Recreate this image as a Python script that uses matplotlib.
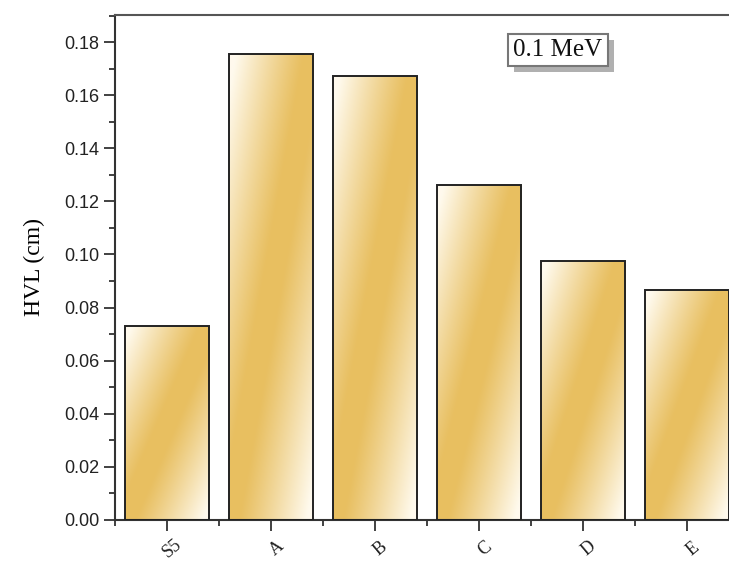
import numpy as np
import matplotlib.pyplot as plt
from matplotlib.patches import Rectangle
from matplotlib.transforms import IdentityTransform
from matplotlib.ticker import MultipleLocator, FixedLocator

# data
samples = ['S5', 'A', 'B', 'C', 'D', 'E']
hvl = [0.0731, 0.1755, 0.1673, 0.1260, 0.0977, 0.0866]
energy_label = '0.1 MeV'

gold = np.array([0.91, 0.75, 0.38])
cream = np.array([1.0, 0.98, 0.93])

fig = plt.figure(figsize=(7.29, 5.65), dpi=100)
ax = fig.add_axes([115/729, 45/565, 624/729, 505/565])

x = np.arange(len(samples))
bars = ax.bar(x, hvl, width=0.81, facecolor='none', edgecolor='#222222',
              linewidth=1.4, zorder=3)

# diagonal gradient fill: cream at top-left / bottom-right corners, gold across the middle
nx, ny = np.meshgrid(np.linspace(0, 1, 120), np.linspace(0, 1, 240))
t = np.clip(np.abs(nx + ny - 1.0), 0, 1)
w = np.clip((t - 0.12) / 0.8, 0, 1) ** 1.1
grad = gold[None, None, :] * (1 - w[..., None]) + cream[None, None, :] * w[..., None]

for b in bars:
    x0, y0 = b.get_x(), b.get_y()
    im = ax.imshow(grad, extent=(x0, x0 + b.get_width(), y0, y0 + b.get_height()),
                   origin='upper', aspect='auto', interpolation='bilinear', zorder=2)
    im.set_clip_path(b)

ax.set_xlim(-0.5, 5.5)
ax.set_ylim(0, 0.1902)

ax.set_xticks(x)
ax.set_xticklabels(samples, rotation=40, family='Liberation Serif', fontsize=13,
                   color='#222222')
ax.xaxis.set_minor_locator(FixedLocator(np.arange(-0.5, 6, 1.0)))
for lab in ax.get_xticklabels():
    lab.set_rotation_mode('anchor')
    lab.set_ha('center')
    lab.set_va('top')

ax.yaxis.set_major_locator(MultipleLocator(0.02))
ax.yaxis.set_minor_locator(MultipleLocator(0.01))
ax.set_yticklabels([f'{v:.2f}' for v in ax.get_yticks()])
for lab in ax.get_yticklabels():
    lab.set_family('Liberation Sans')
    lab.set_fontsize(13)
    lab.set_color('#222222')

ax.tick_params(axis='both', which='major', direction='out', length=8, width=1.3,
               color='#333333')
ax.tick_params(axis='both', which='minor', direction='out', length=4, width=1.3,
               color='#333333')
ax.tick_params(axis='x', which='major', pad=8)
ax.tick_params(axis='y', which='major', pad=3)

for s in ['left', 'bottom', 'top']:
    ax.spines[s].set_linewidth(1.5)
    ax.spines[s].set_color('#333333')
ax.spines['top'].set_color('#555555')
ax.spines['right'].set_visible(False)

ax.set_ylabel('HVL (cm)', family='Liberation Serif', fontsize=17, labelpad=14)

# label box with drop shadow
txt = ax.text(0.71, 0.93, energy_label, transform=ax.transAxes, ha='center', va='center',
              family='Liberation Serif', fontsize=18, color='#111111',
              bbox=dict(boxstyle='square,pad=0.2', facecolor='white', edgecolor='#777777',
                        linewidth=1.5),
              zorder=6)
fig.canvas.draw()
bb = txt.get_bbox_patch().get_window_extent()
shadow = Rectangle((bb.x0 + 6, bb.y0 - 6), bb.width, bb.height,
                   facecolor='#b0b0b0', edgecolor='none', zorder=5)
shadow.set_transform(IdentityTransform())
shadow.set_clip_on(False)
ax.add_artist(shadow)

fig.savefig('out.png', dpi=100)
